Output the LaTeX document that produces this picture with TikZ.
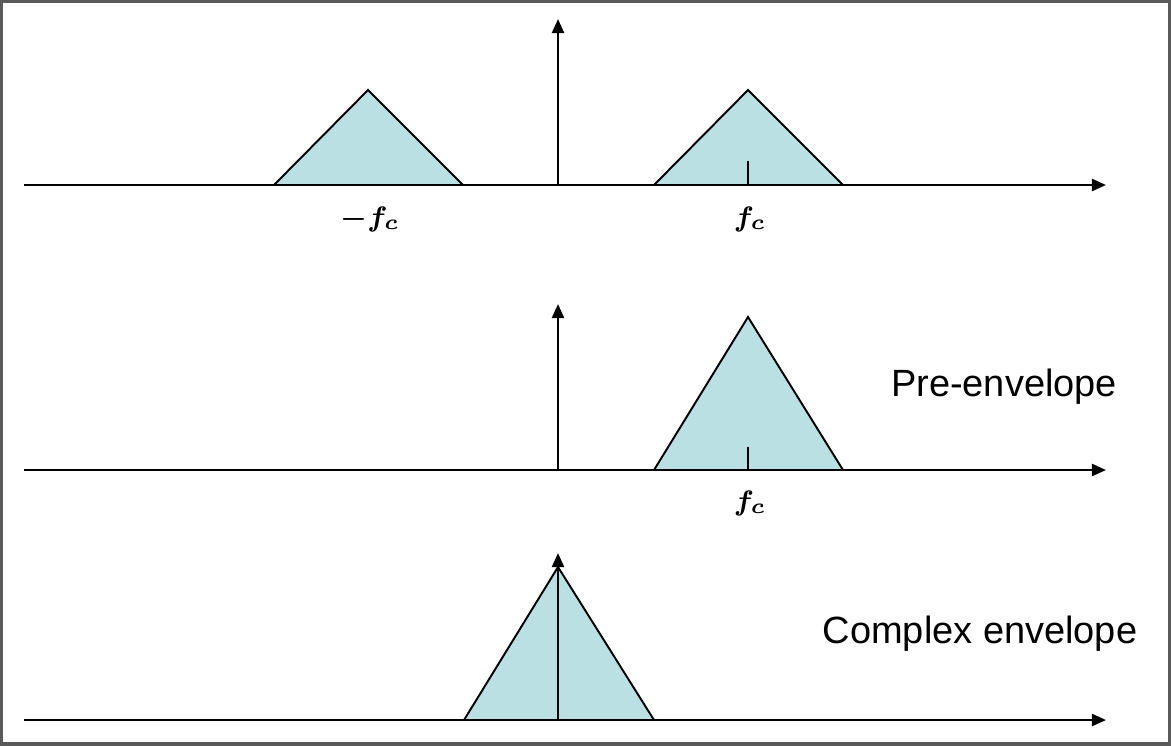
\documentclass[tikz,border=0pt]{standalone}
\usepackage{fontspec}
\setsansfont{Liberation Sans}
\usetikzlibrary{arrows.meta}
\definecolor{spectrum}{RGB}{187,224,227}
\definecolor{framegray}{RGB}{90,90,90}

\begin{document}
\begin{tikzpicture}[
    x=0.01cm, y=-0.01cm,
    axis/.style={-{Triangle[length=4pt, width=3.4pt]}, line width=0.7pt},
    band/.style={draw, line width=0.55pt, fill=spectrum, line join=miter},
    tick/.style={line width=0.55pt},
    freq/.style={font=\footnotesize\boldmath},
    title/.style={font=\sffamily\fontsize{10.8}{13}\selectfont}
]
\useasboundingbox (0,0) rectangle (1171,745);
\draw[framegray, line width=0.9pt] (1,1) rectangle (1170,744);

% Real bandpass spectrum
\draw[band] (274,185) -- (368,90) -- (463,185) -- cycle;
\draw[band] (654,185) -- (748,90) -- (843,185) -- cycle;
\coordinate (a1l) at (24,185);
\coordinate (a1r) at (1106,185);
\coordinate (v1b) at (558,185);
\coordinate (v1t) at (558,19);
\coordinate (t1) at (748,161);
\draw[axis] (a1l) -- (a1r);
\draw[axis] (v1b) -- (v1t);
\draw[tick] (748,185) -- (t1);
\node[freq] (fneg) at (370,219) {$-f_c$};
\node[freq] (fpos1) at (750,219) {$f_c$};

% Pre-envelope
\draw[band] (654,470) -- (748,317) -- (843,470) -- cycle;
\coordinate (a2l) at (24,470);
\coordinate (a2r) at (1106,470);
\coordinate (v2b) at (558,470);
\coordinate (v2t) at (558,304);
\coordinate (t2) at (748,447);
\draw[axis] (a2l) -- (a2r);
\draw[axis] (v2b) -- (v2t);
\draw[tick] (748,470) -- (t2);
\node[freq] (fpos2) at (750,503) {$f_c$};
\node[title] (pre) at (1004,387) {Pre-envelope};

% Complex envelope
\draw[band] (464,720) -- (558,567) -- (654,720) -- cycle;
\coordinate (a3l) at (24,720);
\coordinate (a3r) at (1106,720);
\coordinate (v3b) at (558,720);
\coordinate (v3t) at (558,553);
\draw[axis] (a3l) -- (a3r);
\draw[axis] (v3b) -- (v3t);
\node[title] (cplx) at (980,634) {Complex envelope};

\end{tikzpicture}
\end{document}
